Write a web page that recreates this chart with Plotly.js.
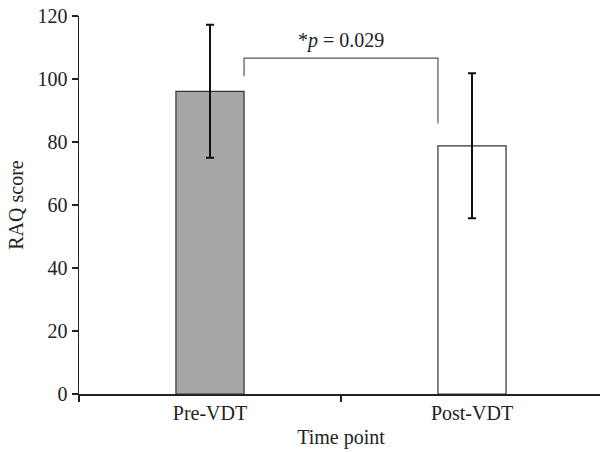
<!DOCTYPE html>
<html><head><meta charset="utf-8">
<script src="https://cdn.plot.ly/plotly-3.0.1.min.js"></script>
<style>html,body{margin:0;padding:0;background:#fff;overflow:hidden;width:600px;height:452px}#chart{width:603px;height:452px}</style>
</head><body><div id="chart"></div>
<script>
const categories = ["Pre-VDT", "Post-VDT"];
const means = [96.1, 78.8];
const errors = [21.1, 23.0];
const barColors = ["#a6a6a6", "#ffffff"];
const bracketX = [0.13, 0.87];
const bracketY = [100.9, 106.6, 85.9]; // left end, top, right end
const pLabel = "*<i>p</i> = 0.029";

const font = {family: "Liberation Serif, Times New Roman, serif", size: 20, color: "#222"};

const trace = {
  type: "bar",
  x: categories,
  y: means,
  width: 0.26,
  marker: {color: barColors, line: {color: "#333", width: 1.2}},
  error_y: {type: "data", array: errors, visible: true, color: "#111", thickness: 2, width: 4}
};

const layout = {
  width: 603, height: 452,
  margin: {l: 79, r: 0, t: 16, b: 58},
  paper_bgcolor: "#fff", plot_bgcolor: "#fff",
  font: font,
  showlegend: false,
  xaxis: {
    type: "category", range: [-0.5, 1.5], tickson: "boundaries",
    ticks: "outside", ticklen: 6, tickcolor: "#222", tickwidth: 1.5,
    showline: true, linecolor: "#222", linewidth: 1.5,
    showgrid: false, zeroline: false, tickfont: font,
    title: {text: "Time point", font: font, standoff: 7}
  },
  yaxis: {
    range: [0, 120], dtick: 20, ticks: "outside", ticklen: 6, tickcolor: "#222", tickwidth: 1.5,
    showline: true, linecolor: "#222", linewidth: 1.5,
    showgrid: false, zeroline: false, tickfont: font,
    title: {text: "RAQ score", font: font, standoff: 8}
  },
  shapes: [{
    type: "path", xref: "x", yref: "y",
    path: "M " + bracketX[0] + "," + bracketY[0] + " L " + bracketX[0] + "," + bracketY[1] +
          " L " + bracketX[1] + "," + bracketY[1] + " L " + bracketX[1] + "," + bracketY[2],
    line: {color: "#555", width: 1.2}
  }],
  annotations: [{
    xref: "x", yref: "y", x: (bracketX[0] + bracketX[1]) / 2, y: bracketY[1],
    text: pLabel, showarrow: false, yanchor: "bottom", yshift: 4, font: font
  }]
};

Plotly.newPlot("chart", [trace], layout, {displayModeBar: false, staticPlot: true});
</script></body></html>
